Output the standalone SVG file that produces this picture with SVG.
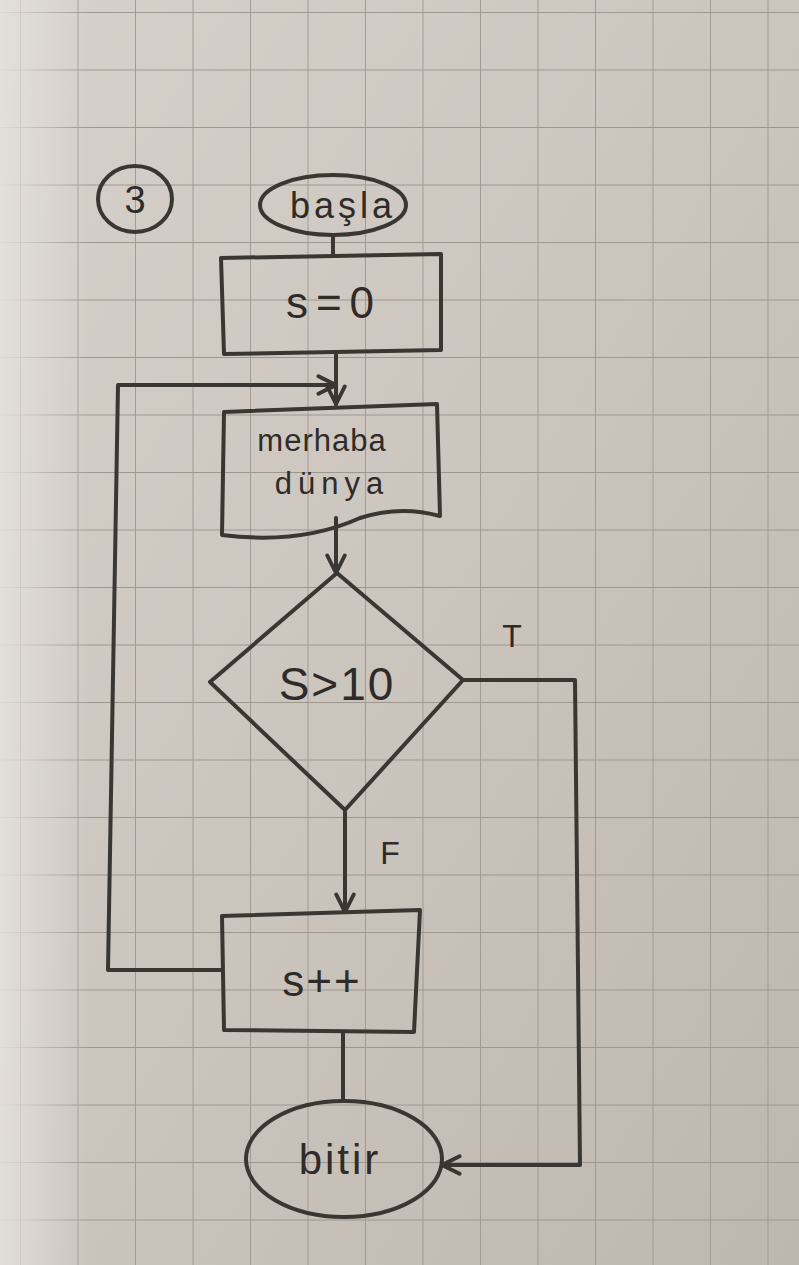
<svg xmlns="http://www.w3.org/2000/svg" width="799" height="1265" viewBox="0 0 799 1265">
<defs>
<linearGradient id="paper" x1="0" y1="0" x2="1" y2="1">
<stop offset="0" stop-color="#d6d1ca"/>
<stop offset="0.5" stop-color="#cbc5be"/>
<stop offset="1" stop-color="#bdb7b0"/>
</linearGradient>
<linearGradient id="leftglow" x1="0" y1="0" x2="1" y2="0">
<stop offset="0" stop-color="#e4e0dc" stop-opacity="0.9"/>
<stop offset="1" stop-color="#e4e0dc" stop-opacity="0"/>
</linearGradient>
<pattern id="grid" width="57.5" height="57.5" patternUnits="userSpaceOnUse" x="20" y="12">
<path d="M0 0H57.5M0 0V57.5" fill="none" stroke="#9d978f" stroke-width="1.8"/>
</pattern>
<marker id="arr" viewBox="0 0 20 20" refX="18" refY="10" markerWidth="22" markerHeight="22" markerUnits="userSpaceOnUse" orient="auto">
<path d="M2 2L18 10L2 18" fill="none" stroke="#3a3632" stroke-width="3.5" stroke-linecap="round"/>
</marker>
<style>
.ink{fill:none;stroke:#3a3632;stroke-width:4;stroke-linecap:round;stroke-linejoin:round}
.t{font-family:"Liberation Sans",Arial,sans-serif;fill:#2f2b28;text-anchor:middle}
</style>
</defs>
<rect width="799" height="1265" fill="url(#paper)"/>
<rect width="799" height="1265" fill="url(#grid)"/>
<rect x="0" y="0" width="90" height="1265" fill="url(#leftglow)"/>
<g id="label3">
<ellipse cx="135" cy="199" rx="37" ry="33" class="ink"/>
<text x="135" y="213" class="t" font-size="38">3</text>
</g>
<g id="basla">
<ellipse cx="333" cy="205" rx="73" ry="30" class="ink"/>
<text x="343" y="218" class="t" font-size="36" letter-spacing="4">başla</text>
</g>
<g id="s0">
<path d="M221 258L441 254L441 350L224 354Z" class="ink"/>
<text x="334" y="318" class="t" font-size="44" letter-spacing="8">s=0</text>
</g>
<g id="merhaba">
<path d="M224 412L437 404L440 516Q400 505 360 518Q300 545 222 535Z" class="ink"/>
<text x="322" y="451" class="t" font-size="31" letter-spacing="1">merhaba</text>
<text x="332" y="494" class="t" font-size="31" letter-spacing="6">dünya</text>
</g>
<g id="cond">
<path d="M337 573L463 680L345 810L210 682Z" class="ink"/>
<text x="337" y="700" class="t" font-size="46" letter-spacing="2">S&gt;10</text>
</g>
<g id="spp">
<path d="M222 916L420 910L414 1032L224 1030Z" class="ink"/>
<text x="322" y="996" class="t" font-size="44" letter-spacing="2">s++</text>
</g>
<g id="bitir">
<ellipse cx="344" cy="1159" rx="98" ry="58" class="ink"/>
<text x="340" y="1174" class="t" font-size="42" letter-spacing="3">bitir</text>
</g>
<g id="connectors">
<path d="M333 235V256" class="ink"/>
<path d="M336 354V404" class="ink" marker-end="url(#arr)"/>
<path d="M222 970H108L118 385H336" class="ink" marker-end="url(#arr)"/>
<path d="M336 518V573" class="ink" marker-end="url(#arr)"/>
<path d="M345 812V912" class="ink" marker-end="url(#arr)"/>
<path d="M343 1032V1101" class="ink"/>
<path d="M463 680H575L580 1165H442" class="ink" marker-end="url(#arr)"/>
<text x="512" y="647" class="t" font-size="32">T</text>
<text x="390" y="864" class="t" font-size="32">F</text>
</g>
</svg>
